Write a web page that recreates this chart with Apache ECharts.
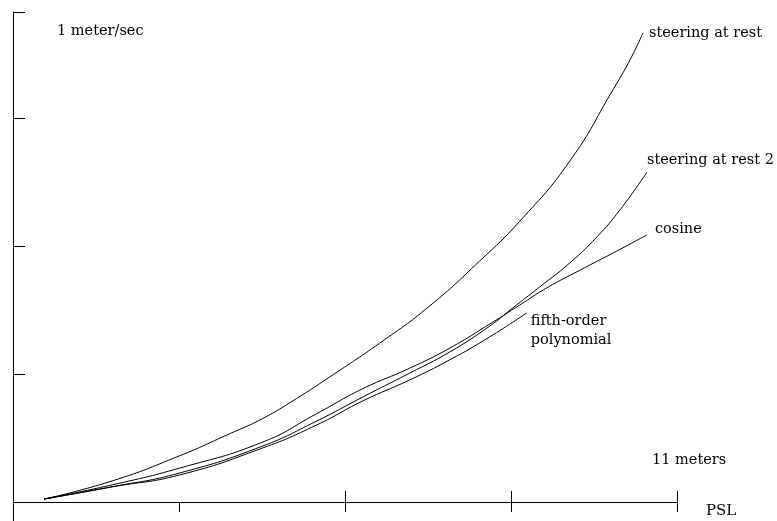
<!DOCTYPE html>
<html>
<head>
<meta charset="utf-8">
<script src="https://cdn.jsdelivr.net/npm/echarts@6/dist/echarts.min.js"></script>
<style>
html,body{margin:0;padding:0;background:#fff;}
#chart{width:777px;height:521px;}
</style>
</head>
<body>
<div id="chart"></div>
<script>
// x: distance along path (meters, 0..11); y: speed (meters/sec, 0..1)
const seriesNames = ['steering at rest', 'steering at rest 2', 'cosine', 'fifth-order\npolynomial'];

const restX = [0.514, 1.643, 2.754, 3.584, 4.131, 4.695, 5.243, 6.072, 6.902, 7.732, 8.395, 9.225, 9.938, 10.220, 10.436];
const restY = [0.006, 0.043, 0.094, 0.139, 0.170, 0.211, 0.255, 0.324, 0.400, 0.492, 0.573, 0.696, 0.841, 0.902, 0.957];

const rest2X = [0.514, 1.643, 2.754, 4.131, 5.027, 5.790, 6.570, 7.234, 7.897, 8.279, 8.727, 9.225, 9.673, 10.054, 10.502];
const rest2Y = [0.006, 0.031, 0.059, 0.114, 0.165, 0.214, 0.263, 0.306, 0.359, 0.396, 0.439, 0.488, 0.541, 0.596, 0.673];

const cosX = [0.514, 1.643, 2.754, 4.131, 5.027, 5.790, 6.570, 7.234, 7.947, 8.395, 8.843, 9.391, 9.938, 10.502];
const cosY = [0.006, 0.035, 0.069, 0.122, 0.180, 0.231, 0.273, 0.314, 0.367, 0.402, 0.437, 0.473, 0.508, 0.545];

const fifthX = [0.514, 1.643, 2.754, 4.131, 5.027, 5.790, 6.570, 7.234, 7.897, 8.511];
const fifthY = [0.006, 0.031, 0.055, 0.110, 0.157, 0.206, 0.249, 0.290, 0.337, 0.386];

const xMax = 11;
const xTickStep = 2.75;
const xInnerTicks = [5.5, 8.25, 11];
const yMax = 1;
const yTickValues = [0.2612, 0.5224, 0.7837, 1];

const FONT = 'DejaVu Serif';

function zip(xs, ys) { return xs.map((x, i) => [x, ys[i]]); }

const labelOffsets = [[2, 0], [-4, -12], [4, -6], [0, 18]];
const allData = [zip(restX, restY), zip(rest2X, rest2Y), zip(cosX, cosY), zip(fifthX, fifthY)];

const chart = echarts.init(document.getElementById('chart'), null, {renderer: 'canvas'});
chart.setOption({
  animation: false,
  backgroundColor: '#fff',
  grid: {left: 13, right: 100, top: 12, bottom: 0, containLabel: false},
  xAxis: [{
    type: 'value', min: 0, max: xMax, interval: xTickStep,
    position: 'bottom',
    axisLine: {show: true, onZero: true, lineStyle: {color: '#000', width: 1}},
    axisTick: {show: true, inside: false, length: 10, lineStyle: {color: '#000', width: 1}},
    axisLabel: {show: false}, splitLine: {show: false}
  }, {
    type: 'value', min: 0, max: xMax, interval: xTickStep,
    position: 'top', offset: -490,
    axisLine: {show: false, onZero: false},
    axisTick: {show: true, inside: false, length: 11, customValues: xInnerTicks, lineStyle: {color: '#000', width: 1}},
    axisLabel: {show: false}, splitLine: {show: false}
  }],
  yAxis: {
    type: 'value', min: -19 / 490, max: yMax,
    axisLine: {show: true, onZero: false, lineStyle: {color: '#000', width: 1}},
    axisTick: {show: true, inside: true, length: 12, customValues: yTickValues, lineStyle: {color: '#000', width: 1}},
    axisLabel: {show: false}, splitLine: {show: false}
  },
  series: allData.map((d, i) => ({
    name: seriesNames[i],
    type: 'line',
    data: d,
    showSymbol: false,
    smooth: 0.5,
    lineStyle: {color: '#000', width: 1},
    endLabel: {
      show: true,
      formatter: seriesNames[i],
      color: '#000',
      fontFamily: FONT,
      fontSize: 14.5,
      lineHeight: 19,
      distance: 4,
      offset: labelOffsets[i],
      align: 'left'
    }
  })),
  graphic: [
    {type: 'text', left: 57, top: 24, style: {text: '1 meter/sec', font: '14.5px "' + FONT + '"', fill: '#000'}},
    {type: 'text', left: 652, top: 453, style: {text: '11 meters', font: '14.5px "' + FONT + '"', fill: '#000'}},
    {type: 'text', left: 706, top: 504, style: {text: 'PSL', font: '15px "' + FONT + '"', fill: '#000'}}
  ]
});
</script>
</body>
</html>
